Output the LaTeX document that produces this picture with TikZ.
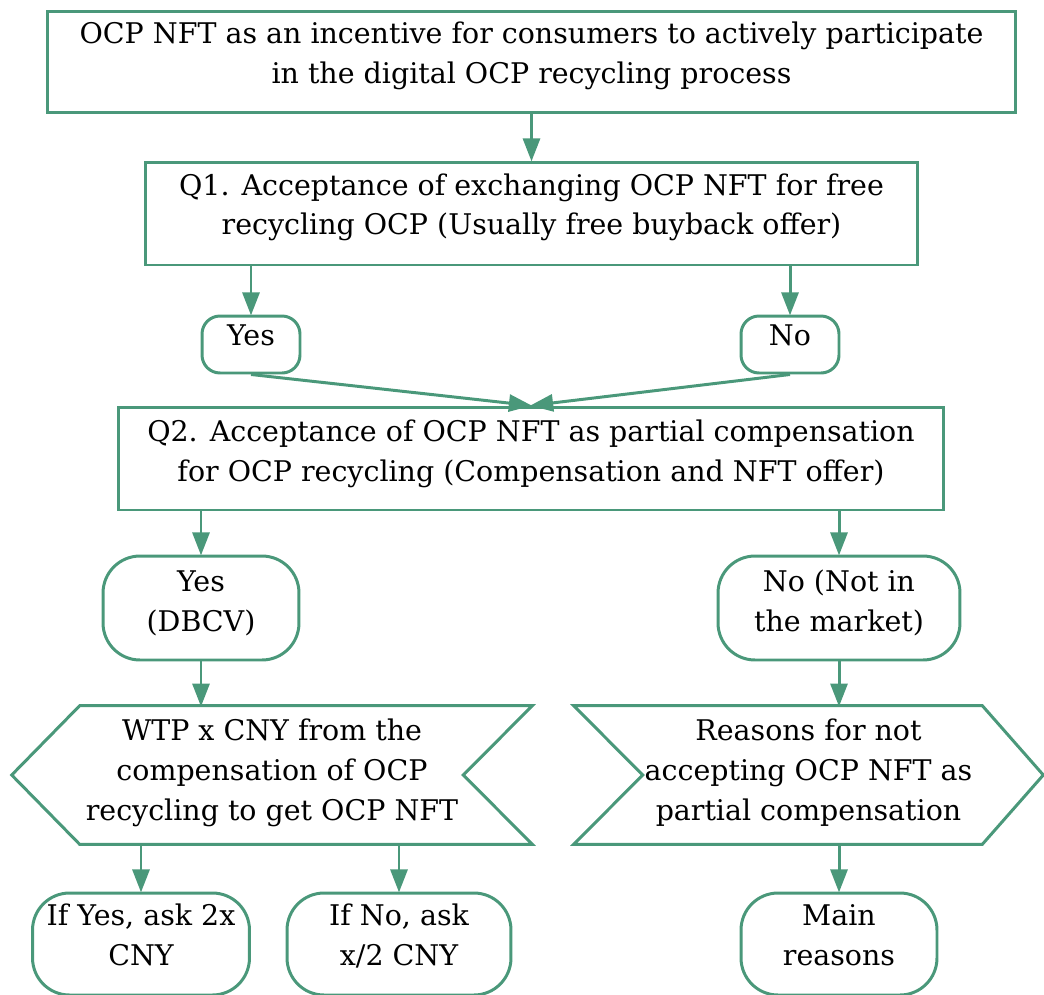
\documentclass[tikz,border=0pt]{standalone}
\usepackage{fontspec}
\setmainfont{DejaVu Serif}
\usetikzlibrary{arrows.meta,calc}
\definecolor{flowgreen}{RGB}{74,152,122}
% centred lines that sit a little above the middle of their frame
\newcommand\raisedlines[2][0.26cm]{\vbox{\hbox{\begin{tabular}{@{}c@{}}#2\end{tabular}}\kern#1}}
\begin{document}
\begin{tikzpicture}[x=0.02cm,y=-0.02cm,
  every node/.style={font=\fontsize{16.2}{22.7}\selectfont, align=center, inner sep=0pt},
  boxnode/.style={draw=flowgreen, line width=1.7pt, rectangle},
  pill/.style={draw=flowgreen, line width=1.7pt, rectangle, rounded corners=#1},
  pill/.default=0.36cm,
  hexbody/.style={rectangle, minimum height=2.76cm},
  hexline/.style={draw=flowgreen, line width=1.7pt, line join=miter},
  link/.style={draw=flowgreen, line width=1.7pt,
    -{Triangle[length=0.46cm,width=0.34cm]}, shorten >=-0.5pt}]
\useasboundingbox (0,0) rectangle (1044,994);

% top statement and the two questions
\node[boxnode, minimum width=19.38cm, minimum height=2.04cm] (top) at (531.5,62)
  {\raisedlines{OCP NFT as an incentive for consumers to actively participate\\in the digital OCP recycling process}};
\node[boxnode, minimum width=15.46cm, minimum height=2.06cm] (q1) at (531.5,213.5)
  {\raisedlines{Q1. Acceptance of exchanging OCP NFT for free\\recycling OCP (Usually free buyback offer)}};
\node[pill, minimum width=1.96cm, minimum height=1.14cm] (yes1) at (251,344.5) {\raisedlines[0.28cm]{Yes}};
\node[pill, minimum width=1.96cm, minimum height=1.14cm] (no1) at (790,344.5) {\raisedlines[0.28cm]{No}};
\node[boxnode, minimum width=16.52cm, minimum height=2.06cm] (q2) at (531,458.5)
  {\raisedlines[0.2cm]{Q2. Acceptance of OCP NFT as partial compensation\\for OCP recycling (Compensation and NFT offer)}};

% answers to Q2
\node[pill=0.74cm, minimum width=3.92cm, minimum height=2.08cm] (yes2) at (201,608)
  {\raisedlines[0.18cm]{Yes\\(DBCV)}};
\node[pill=0.74cm, minimum width=4.84cm, minimum height=2.08cm] (no2) at (839,608)
  {\raisedlines[0.18cm]{No (Not in\\the market)}};

% the two arrow-shaped boxes
\node[hexbody, minimum width=10.4cm] (wtp) at (272,775)
  {\raisedlines[0.1cm]{WTP x CNY from the\\compensation of OCP\\recycling to get OCP NFT}};
\draw[hexline] (wtp.west) -- ($(wtp.north west)+(68,0)$) -- (wtp.north east)
  -- ($(wtp.east)+(-69,0)$) -- (wtp.south east) -- ($(wtp.south west)+(68,0)$) -- cycle;
\node[hexbody, minimum width=9.38cm] (why) at (808.5,775)
  {\raisedlines[0.1cm]{Reasons for not\\accepting OCP NFT as\\partial compensation}};
\draw[hexline] (why.north west) -- ($(why.north east)+(-61,0)$) -- (why.east)
  -- ($(why.south east)+(-61,0)$) -- (why.south west) -- ($(why.west)+(69,0)$) -- cycle;

% follow-up questions
\node[pill=0.74cm, minimum width=4.34cm, minimum height=2.04cm] (ifyes) at (141,944)
  {\raisedlines[0.26cm]{If Yes, ask 2x\\CNY}};
\node[pill=0.74cm, minimum width=4.48cm, minimum height=2.04cm] (ifno) at (399,944)
  {\raisedlines[0.26cm]{If No, ask\\x/2 CNY}};
\node[pill=0.74cm, minimum width=3.92cm, minimum height=2.04cm] (main) at (839,944)
  {\raisedlines[0.26cm]{Main\\reasons}};

% connectors
\draw[link] (top.south) -- (q1.north);
\draw[link] (yes1.north |- q1.south) -- (yes1.north);
\draw[link] (no1.north |- q1.south) -- (no1.north);
\draw[link] (yes1.south) -- (q2.north);
\draw[link] (no1.south) -- (q2.north);
\draw[link] (yes2.north |- q2.south) -- (yes2.north);
\draw[link] (no2.north |- q2.south) -- (no2.north);
\draw[link] (yes2.south) -- (yes2.south |- wtp.north);
\draw[link] (no2.south) -- (no2.south |- why.north);
\draw[link] (ifyes.north |- wtp.south) -- (ifyes.north);
\draw[link] (ifno.north |- wtp.south) -- (ifno.north);
\draw[link] (main.north |- why.south) -- (main.north);
\end{tikzpicture}
\end{document}
